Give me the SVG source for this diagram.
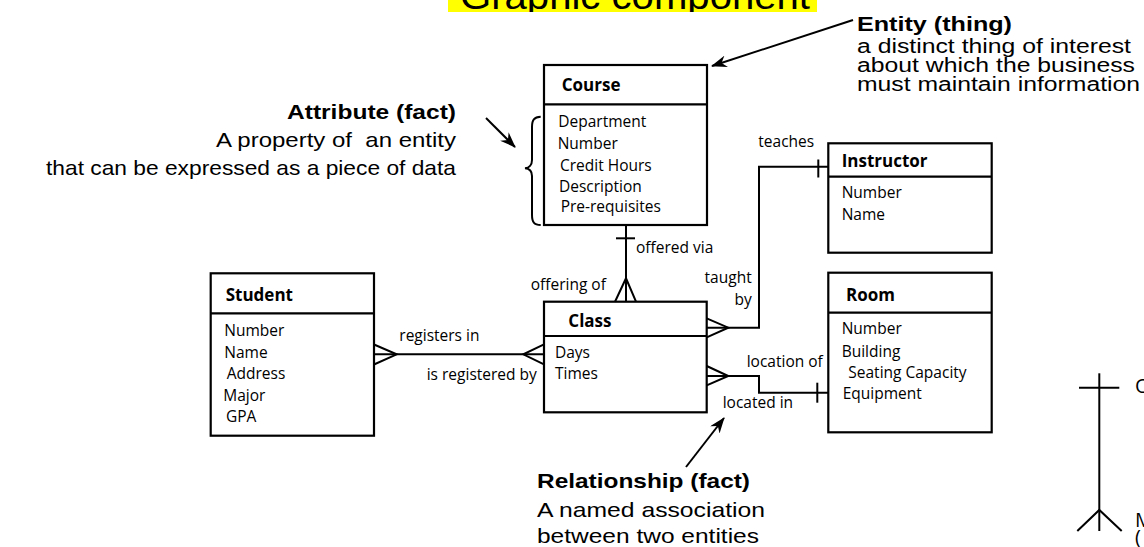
<svg xmlns="http://www.w3.org/2000/svg" width="1144" height="547" viewBox="0 0 1144 547">
<defs>
<style>
.box{fill:#fff;stroke:#000;stroke-width:2.2}
.div{stroke:#000;stroke-width:2.2}
.hdr{font-family:"Open Sans",sans-serif;font-weight:bold;font-size:17px;fill:#000}
.att{font-family:"Open Sans",sans-serif;font-size:15.5px;fill:#000}
.conn{fill:none;stroke:#000;stroke-width:2}
.ann{font-family:"Liberation Sans",Arial,sans-serif;font-size:21px;fill:#000}
.annb{font-family:"Liberation Sans",Arial,sans-serif;font-size:21px;font-weight:bold;fill:#000}
.arr{fill:none;stroke:#000;stroke-width:2;marker-end:url(#ah)}
</style>
<marker id="ah" markerUnits="userSpaceOnUse" markerWidth="16" markerHeight="12" viewBox="0 0 16 12" refX="15" refY="6" orient="auto"><path d="M0,0 L16,6 L0,12 L5,6 Z" fill="#000"/></marker>
<clipPath id="tc"><rect x="440" y="0" width="400" height="12"/></clipPath>
</defs>
<rect width="1144" height="547" fill="#fff"/>

<g id="title">
<rect x="448" y="0" width="369" height="12" fill="#ffff00"/>
<text x="460" y="9" clip-path="url(#tc)" style="font-family:'Liberation Sans',Arial,sans-serif;font-size:36px" textLength="350" lengthAdjust="spacingAndGlyphs">Graphic component</text>
</g>

<g id="entity-note">
<text class="annb" x="857" y="31" style="font-size:20px" textLength="155" lengthAdjust="spacingAndGlyphs">Entity (thing)</text>
<text class="ann" x="857" y="53" style="font-size:20px" textLength="274" lengthAdjust="spacingAndGlyphs">a distinct thing of interest</text>
<text class="ann" x="857" y="72" style="font-size:20px" textLength="278" lengthAdjust="spacingAndGlyphs">about which the business</text>
<text class="ann" x="857" y="91" style="font-size:20px" textLength="283" lengthAdjust="spacingAndGlyphs">must maintain information</text>
<line class="arr" x1="853" y1="20" x2="712" y2="66"/>
</g>

<g id="attribute-note">
<text class="annb" x="456" y="119" text-anchor="end" textLength="169" lengthAdjust="spacingAndGlyphs">Attribute (fact)</text>
<text class="ann" x="456" y="147" text-anchor="end" xml:space="preserve" textLength="240" lengthAdjust="spacingAndGlyphs">A property of  an entity</text>
<text class="ann" x="456" y="175" text-anchor="end" textLength="410" lengthAdjust="spacingAndGlyphs">that can be expressed as a piece of data</text>
<line class="arr" x1="486" y1="118" x2="515" y2="147"/>
<path class="conn" d="M540.7,116.7 C534,117 532,120 532,127 L532,160 C532,165 529,168 525,168.3 C529,168.6 532,171 532,176 L532,215 C532,222 534,225 540.7,225"/>
</g>

<g id="relationship-note">
<text class="annb" x="537" y="488" textLength="213" lengthAdjust="spacingAndGlyphs">Relationship (fact)</text>
<text class="ann" x="537" y="516.5" textLength="228" lengthAdjust="spacingAndGlyphs">A named association</text>
<text class="ann" x="537" y="542.5" textLength="222" lengthAdjust="spacingAndGlyphs">between two entities</text>
<line class="arr" x1="686" y1="467" x2="724" y2="418"/>
</g>

<g id="course">
<rect class="box" x="544" y="65" width="163" height="160"/>
<line class="div" x1="544" y1="104.3" x2="707" y2="104.3"/>
<text class="hdr" x="561.7" y="90.7">Course</text>
<text class="att" x="558.3" y="127.3">Department</text>
<text class="att" x="557.7" y="149">Number</text>
<text class="att" x="560" y="170.7">Credit Hours</text>
<text class="att" x="559" y="191.7">Description</text>
<text class="att" x="560.7" y="212.3">Pre-requisites</text>
</g>

<g id="instructor">
<rect class="box" x="828.3" y="143.3" width="163.4" height="109.4"/>
<line class="div" x1="828.3" y1="176.7" x2="991.7" y2="176.7"/>
<text class="hdr" x="841.7" y="167.3">Instructor</text>
<text class="att" x="841.7" y="198.3">Number</text>
<text class="att" x="841.7" y="220">Name</text>
</g>

<g id="student">
<rect class="box" x="210.7" y="273.3" width="163.3" height="162.4"/>
<line class="div" x1="210.7" y1="313.3" x2="374" y2="313.3"/>
<text class="hdr" x="225.7" y="301">Student</text>
<text class="att" x="224.3" y="336">Number</text>
<text class="att" x="224.3" y="358.3">Name</text>
<text class="att" x="226.7" y="379">Address</text>
<text class="att" x="223.3" y="400.7">Major</text>
<text class="att" x="226" y="422.3">GPA</text>
</g>

<g id="class">
<rect class="box" x="544" y="301.7" width="162.7" height="110.6"/>
<line class="div" x1="544" y1="336" x2="706.7" y2="336"/>
<text class="hdr" x="568.3" y="326.7">Class</text>
<text class="att" x="555" y="358.3">Days</text>
<text class="att" x="555" y="379">Times</text>
</g>

<g id="room">
<rect class="box" x="828.3" y="272.7" width="163.4" height="159.6"/>
<line class="div" x1="828.3" y1="312.7" x2="991.7" y2="312.7"/>
<text class="hdr" x="846" y="300.7">Room</text>
<text class="att" x="841.7" y="334.3">Number</text>
<text class="att" x="841.7" y="356.7">Building</text>
<text class="att" x="848.3" y="378.3">Seating Capacity</text>
<text class="att" x="842.7" y="399.3">Equipment</text>
</g>

<g id="connectors">
<!-- Course - Class -->
<path class="conn" d="M626,225 L626,301.7"/>
<path class="conn" d="M616,238.3 L635,238.3"/>
<path class="conn" d="M615,301.7 L626,278.3 L636,301.7"/>
<text class="att" x="636" y="252.7">offered via</text>
<text class="att" x="530.7" y="290">offering of</text>
<!-- Student - Class -->
<path class="conn" d="M374,354.3 L544,354.3"/>
<path class="conn" d="M374,344.5 L396.7,354.3 L374,364.5"/>
<path class="conn" d="M544,344.3 L523.3,354.3 L544,364.3"/>
<text class="att" x="399.3" y="341">registers in</text>
<text class="att" x="426.7" y="380">is registered by</text>
<!-- Class - Instructor -->
<path class="conn" d="M706.7,327.7 L759,327.7 L759,166.7 L828.3,166.7"/>
<path class="conn" d="M706.7,318.3 L728.3,327.7 L706.7,337.3"/>
<path class="conn" d="M818.3,159.5 L818.3,177.5"/>
<text class="att" x="758.3" y="146.7">teaches</text>
<text class="att" x="751.7" y="283.3" text-anchor="end">taught</text>
<text class="att" x="751.7" y="305" text-anchor="end">by</text>
<!-- Class - Room -->
<path class="conn" d="M706.7,376 L759,376 L759,392.7 L828.3,392.7"/>
<path class="conn" d="M706.7,366 L728.3,376 L706.7,385.3"/>
<path class="conn" d="M817.3,382.7 L817.3,402.7"/>
<text class="att" x="746.7" y="367.3">location of</text>
<text class="att" x="722.7" y="408.3">located in</text>
</g>

<g id="legend">
<path class="conn" d="M1099.3,373.3 L1099.3,531"/>
<path class="conn" d="M1079,387.7 L1119.3,387.7"/>
<path class="conn" d="M1077.3,531 L1099.3,510 L1121.7,531"/>
<text class="att" x="1135" y="393.3" style="font-size:20px">O</text>
<text class="att" x="1135" y="526.7" style="font-size:20px">M</text>
<text class="att" x="1135" y="544" style="font-size:20px">(</text>
</g>
</svg>
